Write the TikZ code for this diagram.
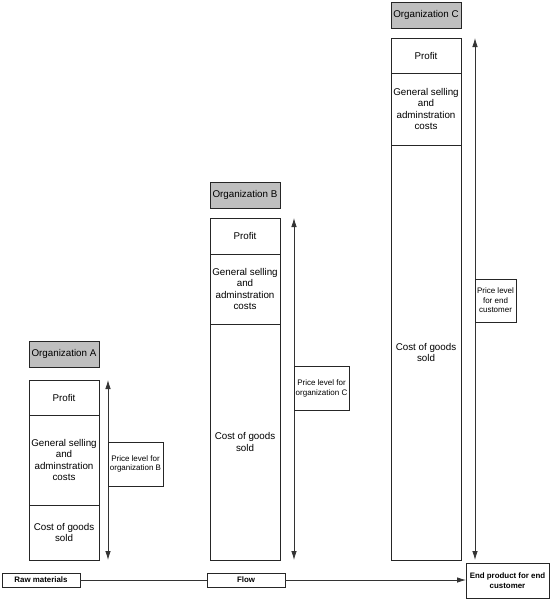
\documentclass[tikz,border=0pt]{standalone}
\usepackage{fontspec}
\setmainfont{Liberation Sans}
\usetikzlibrary{arrows.meta}
\begin{document}
\begin{tikzpicture}[x=1pt,y=-1pt,
  every node/.style={inner sep=1pt, outer sep=0pt},
  box/.style={draw=black!85, line width=0.8pt, fill=white, align=center, font=\fontsize{9.8}{11.5}\selectfont},
  orgbox/.style={draw=black!85, line width=0.8pt, fill=black!25, minimum width=70pt, minimum height=26pt, font=\fontsize{9.8}{11.5}\selectfont},
  small/.style={draw=black!85, line width=0.8pt, fill=white, align=center, font=\fontsize{8}{9.5}\selectfont},
  flowbox/.style={draw=black!85, line width=0.8pt, fill=white, align=center, font=\bfseries\fontsize{7.9}{9.5}\selectfont},
  dbl/.style={draw=black!80, line width=0.8pt, {Latex[length=9pt,width=5.5pt]}-{Latex[length=9pt,width=5.5pt]}},
  one/.style={draw=black!80, line width=0.8pt, -{Latex[length=9pt,width=5.5pt]}}
]
\useasboundingbox (0,0) rectangle (554,600);
\fill[white] (0,0) rectangle (554,600);

% Organization A
\node[orgbox] (orgA) at (64,354) {Organization A};
\node[box, minimum width=70pt, minimum height=35pt] (aP) at (64,397.5) {Profit};
\node[box, minimum width=70pt, minimum height=90pt] (aG) at (64,460) {General selling\\and\\adminstration\\costs};
\node[box, minimum width=70pt, minimum height=55pt] (aC) at (64,532.5) {Cost of goods\\sold};
\coordinate (aT) at (108,380);
\coordinate (aB) at (108,560);
\draw[dbl] (aT) -- (aB);
\node[small, minimum width=55pt, minimum height=44pt] (aL) at (135.5,464) {Price level for\\organization B};

% Organization B
\node[orgbox] (orgB) at (245,195) {Organization B};
\node[box, minimum width=70pt, minimum height=36pt] (bP) at (245,236) {Profit};
\node[box, minimum width=70pt, minimum height=70pt] (bG) at (245,289) {General selling\\and\\adminstration\\costs};
\node[box, minimum width=70pt, minimum height=236pt] (bC) at (245,442) {Cost of goods\\sold};
\coordinate (bT) at (294,218);
\coordinate (bB) at (294,560);
\draw[dbl] (bT) -- (bB);
\node[small, minimum width=55pt, minimum height=44pt] (bL) at (321.5,388.5) {Price level for\\organization C};

% Organization C
\node[orgbox] (orgC) at (426,15) {Organization C};
\node[box, minimum width=70pt, minimum height=35pt] (cP) at (426,55.5) {Profit};
\node[box, minimum width=70pt, minimum height=72pt] (cG) at (426,109) {General selling\\and\\adminstration\\costs};
\node[box, minimum width=70pt, minimum height=415pt] (cC) at (426,352.5) {Cost of goods\\sold};
\coordinate (cT) at (475,38);
\coordinate (cB) at (475,560);
\draw[dbl] (cT) -- (cB);
\node[small, minimum width=41pt, minimum height=43pt] (cL) at (495.5,300.5) {Price level\\for end\\customer};

% Flow
\node[flowbox, minimum width=78pt, minimum height=14pt] (raw) at (41,580) {Raw materials};
\node[flowbox, minimum width=78pt, minimum height=14pt] (flow) at (246,580) {Flow};
\node[flowbox, minimum width=83pt, minimum height=35pt] (end) at (507.5,580.5) {End product for end\\customer};
\draw[draw=black!80, line width=0.8pt] (raw.east) -- (flow.west);
\draw[one] (flow.east) -- (flow.east -| end.west);
\end{tikzpicture}
\end{document}
